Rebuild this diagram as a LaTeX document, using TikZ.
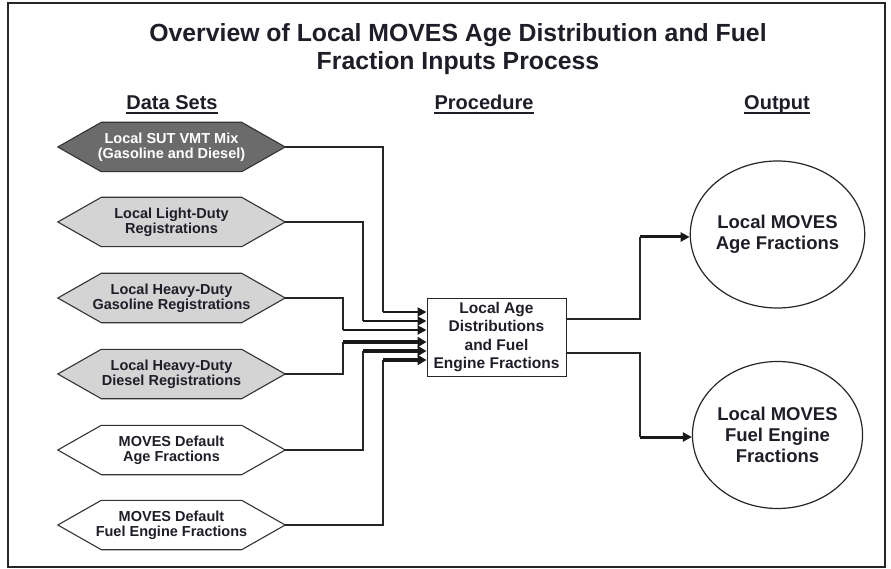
\documentclass[tikz,border=0pt]{standalone}
\usepackage{fontspec}
\setmainfont{Liberation Sans}
\usetikzlibrary{arrows.meta,shapes.geometric,backgrounds}
\definecolor{hexdark}{HTML}{6B6B6B}
\definecolor{hexlight}{HTML}{D4D4D4}
\definecolor{ink}{HTML}{1E1E28}
\begin{document}
\begin{tikzpicture}[x=1pt,y=-1pt,
  hexbox/.style={rectangle, minimum width=227pt, minimum height=49pt, inner sep=0pt,
    align=center, font=\fontsize{14.5}{15}\selectfont\bfseries, text=ink},
  hexshape/.style={draw=black!80, line width=1.1pt},
  header/.style={inner sep=0pt, anchor=base, font=\fontsize{20}{24}\selectfont\bfseries, text=ink},
  ul/.style={line width=1.4pt, draw=ink},
  procbox/.style={draw=black!85, line width=1pt, fill=white, minimum width=139pt, minimum height=78pt,
    inner sep=0pt, align=center, font=\fontsize{15.5}{18.5}\selectfont\bfseries, text=ink},
  outell/.style={ellipse, draw=black!85, line width=1.2pt, minimum width=165pt, minimum height=147pt,
    inner sep=0pt, align=center, font=\fontsize{18.5}{21}\selectfont\bfseries, text=ink},
  feed/.style={draw=black!85, line width=1.3pt},
  inA/.style={draw=black!90, line width=2pt, -{Triangle[length=9pt,width=9pt]}},
  inB/.style={draw=black!90, line width=3.8pt, -{Triangle[length=9pt,width=10pt]}},
  outarrow/.style={draw=black!90, line width=3pt, -{Triangle[length=9pt,width=9pt]}}
]
\useasboundingbox (0,0) rectangle (891,569);
\begin{scope}[on background layer]
  \fill[white] (0,0) rectangle (891,569);
\end{scope}
\draw[line width=2.5pt, draw=black!85] (8,3) rectangle (885,567);

% title and headers
\node[font=\fontsize{24.8}{28}\selectfont\bfseries, align=center, anchor=base, inner sep=0pt, text=ink] (title) at (458,70)
  {Overview of Local MOVES Age Distribution and Fuel\\Fraction Inputs Process};
\node[header] (hd1) at (172,110) {Data Sets};
\node[header] (hd2) at (484,110) {Procedure};
\node[header] (hd3) at (777,110) {Output};
\foreach \h in {hd1,hd2,hd3}
  \draw[ul] ([yshift=-3pt]\h.base west) -- ([yshift=-3pt]\h.base east);

% data sets
\node[hexbox, text=white] (h1) at (171.5,147) {Local SUT VMT Mix\\(Gasoline and Diesel)};
\node[hexbox] (h2) at (171.5,222) {Local Light-Duty\\Registrations};
\node[hexbox] (h3) at (171.5,298) {Local Heavy-Duty\\Gasoline Registrations};
\node[hexbox] (h4) at (171.5,374) {Local Heavy-Duty\\Diesel Registrations};
\node[hexbox] (h5) at (171.5,450) {MOVES Default\\Age Fractions};
\node[hexbox] (h6) at (171.5,525) {MOVES Default\\Fuel Engine Fractions};
\begin{scope}[on background layer]
  \foreach \n/\f in {h1/hexdark,h2/hexlight,h3/hexlight,h4/hexlight,h5/white,h6/white}
    \draw[hexshape, fill=\f] (\n.west) -- ([xshift=43.5pt]\n.north west) -- ([xshift=-43.5pt]\n.north east)
      -- (\n.east) -- ([xshift=-43.5pt]\n.south east) -- ([xshift=43.5pt]\n.south west) -- cycle;
\end{scope}

% procedure
\node[procbox] (proc) at (496.5,337) {Local Age\\Distributions\\and Fuel\\Engine Fractions};

% outputs
\node[outell] (o1) at (777.5,234.5) {Local MOVES\\Age Fractions};
\node[outell] (o2) at (777.5,435) {Local MOVES\\Fuel Engine\\Fractions};

% input connectors
\coordinate (k1) at (383,312);
\coordinate (k2) at (363,321);
\coordinate (k3) at (343,330);
\coordinate (k4) at (343,342);
\coordinate (k5) at (363,351);
\coordinate (k6) at (383,360);
\draw[feed] (h1.east) -| (k1);
\draw[feed] (h2.east) -| (k2);
\draw[feed] (h3.east) -| (k3);
\draw[feed] (h4.east) -| (k4);
\draw[feed] (h5.east) -| (k5);
\draw[feed] (h6.east) -| (k6);
\draw[inA] (k1) -- (k1 -| proc.west);
\draw[inA] (k2) -- (k2 -| proc.west);
\draw[inA] (k3) -- (k3 -| proc.west);
\draw[inB] (k4) -- (k4 -| proc.west);
\draw[inB] (k5) -- (k5 -| proc.west);
\draw[inB] (k6) -- (k6 -| proc.west);

% output connectors
\coordinate (m1) at (640,237);
\coordinate (m2) at (640,437);
\draw[feed] ([yshift=18pt]proc.east) -| (m1);
\draw[feed] ([yshift=-16pt]proc.east) -| (m2);
\draw[outarrow] (m1) -- (m1 -| o1.west);
\draw[outarrow] (m2) -- (m2 -| o2.west);
\end{tikzpicture}
\end{document}
